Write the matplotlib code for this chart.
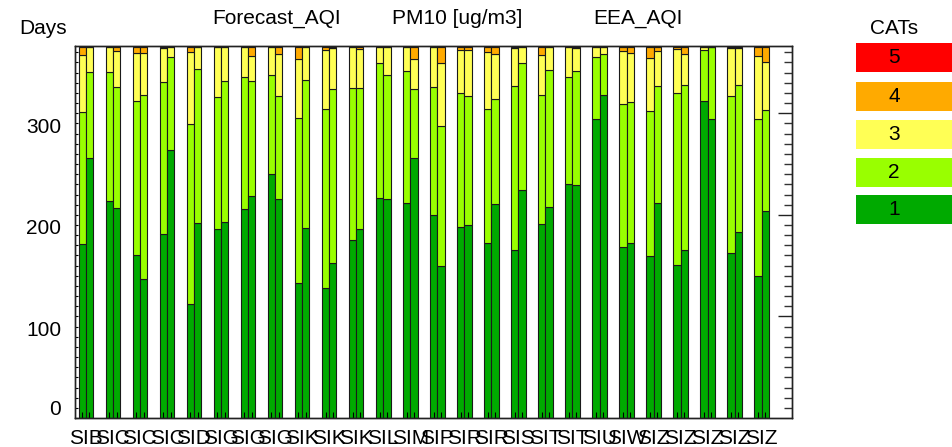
import matplotlib
matplotlib.use('Agg')
import matplotlib.pyplot as plt
from matplotlib.patches import Rectangle
from matplotlib.transforms import ScaledTranslation, blended_transform_factory
import numpy as np

plt.rcParams['font.family'] = ['Liberation Sans', 'DejaVu Sans']

stations = ['SIB', 'SIC', 'SIC', 'SIC', 'SID', 'SIG', 'SIG', 'SIG', 'SIK', 'SIK', 'SIK', 'SIL', 'SIM',
            'SIP', 'SIR', 'SIR', 'SIS', 'SIT', 'SIT', 'SIU', 'SIW', 'SIZ', 'SIZ', 'SIZ', 'SIZ', 'SIZ']

# days per category, forecast (left bar of each pair)
fc_cat1 = [171, 214, 160, 181, 112, 186, 206, 240, 133, 128, 175, 217, 212,
           200, 188, 172, 165, 191, 230, 294, 168, 159, 151, 312, 162, 140]
fc_cat2 = [130, 127, 152, 150, 177, 130, 130, 98, 162, 176, 150, 132, 130,
           126, 132, 132, 162, 127, 106, 61, 141, 143, 169, 50, 155, 154]
fc_cat3 = [56, 24, 47, 33, 71, 49, 29, 27, 58, 58, 40, 16, 23,
           39, 42, 56, 37, 39, 29, 10, 52, 52, 43, 3, 47, 62]
fc_cat4 = [8, 0, 6, 0, 5, 0, 0, 0, 12, 3, 0, 0, 0,
           0, 3, 5, 0, 8, 0, 0, 4, 11, 2, 0, 0, 9]
fc_cat5 = [0, 0, 0, 1, 0, 0, 0, 0, 0, 0, 0, 0, 0,
           0, 0, 0, 1, 0, 0, 0, 0, 0, 0, 0, 1, 0]

# days per category, observed EEA index (right bar of each pair)
obs_cat1 = [256, 207, 137, 264, 192, 193, 219, 216, 187, 153, 186, 216, 256,
            150, 190, 211, 224, 208, 229, 318, 172, 212, 165, 294, 183, 204]
obs_cat2 = [85, 119, 181, 91, 152, 139, 113, 101, 146, 171, 139, 122, 68,
            137, 127, 103, 125, 135, 113, 40, 139, 115, 163, 71, 145, 99]
obs_cat3 = [24, 35, 41, 10, 21, 33, 24, 41, 32, 40, 38, 27, 29,
            62, 45, 44, 16, 22, 22, 7, 48, 34, 30, 0, 36, 47]
obs_cat4 = [0, 4, 6, 0, 0, 0, 9, 7, 0, 0, 2, 0, 12,
            16, 3, 7, 0, 0, 0, 0, 6, 4, 7, 0, 0, 15]
obs_cat5 = [0, 0, 0, 0, 0, 0, 0, 0, 0, 1, 0, 0, 0,
            0, 0, 0, 0, 0, 1, 0, 0, 0, 0, 0, 1, 0]

cat_names = ['1', '2', '3', '4', '5']
cat_colors = ['#00aa00', '#99ff00', '#ffff55', '#ffaa00', '#ff0000']

fs = 15

fig = plt.figure(figsize=(9.53, 4.47), dpi=100)
ax = fig.add_axes([0.0787, 0.0649, 0.7524, 0.8329])

x = np.arange(len(stations))
w = 0.27

def stack(xpos, cats):
    bottom = np.zeros(len(xpos))
    for vals, col in zip(cats, cat_colors):
        vals = np.array(vals, dtype=float)
        ax.bar(xpos, vals, w, bottom=bottom, color=col, edgecolor='#1a1a1a', linewidth=0.8)
        bottom += vals

stack(x - w / 2, [fc_cat1, fc_cat2, fc_cat3, fc_cat4, fc_cat5])
stack(x + w / 2, [obs_cat1, obs_cat2, obs_cat3, obs_cat4, obs_cat5])

ax.set_xlim(-0.40, 26.12)
ax.set_ylim(0, 366.5)

# x axis: station names under each pair, small ticks inside the bars
ax.set_xticks(x)
ax.set_xticklabels(stations, fontsize=fs)
ax.tick_params(axis='x', which='major', length=0, pad=8)
ax.set_xticks(np.concatenate([x - w / 2, x + w / 2]), minor=True)
ax.tick_params(axis='x', which='minor', direction='in', length=4, width=0.8, top=False)

# left: short ticks every 10 days, labels drawn by hand
ax.set_yticks(np.arange(0, 370, 10))
ax.tick_params(axis='y', which='major', direction='in', length=2.5, width=0.8,
               labelleft=False)

yt = blended_transform_factory(ax.transAxes, ax.transData)
for val in [0, 100, 200, 300]:
    dy = 8 / 100 if val == 0 else -14 / 100
    tr = yt + ScaledTranslation(0, dy, fig.dpi_scale_trans)
    ax.text(-14 / 717, val, str(val), transform=tr, ha='right', va='center', fontsize=fs)

# right: longer ticks, major every 100
ax2 = ax.twinx()
ax2.set_ylim(ax.get_ylim())
ax2.set_yticks([100, 200, 300])
ax2.set_yticks(np.arange(10, 370, 10), minor=True)
ax2.tick_params(axis='y', which='major', direction='in', length=10, width=1.0,
                labelright=False, color='#222222')
ax2.tick_params(axis='y', which='minor', direction='in', length=6, width=1.0,
                color='#333333')

for a in (ax, ax2):
    for s in a.spines.values():
        s.set_linewidth(1.0)
        s.set_color('#222222')

fig.text(43 / 953, 1 - 28 / 447, 'Days', ha='center', va='center', fontsize=fs)
fig.text(277 / 953, 1 - 18 / 447, 'Forecast_AQI', ha='center', va='center', fontsize=fs)
fig.text(457 / 953, 1 - 18 / 447, 'PM10 [ug/m3]', ha='center', va='center', fontsize=fs)
fig.text(638 / 953, 1 - 18 / 447, 'EEA_AQI', ha='center', va='center', fontsize=fs)

# category legend on the right
fig.text(894 / 953, 1 - 28 / 447, 'CATs', ha='center', va='center', fontsize=fs)
box_top = [43, 82, 120, 158, 195]
for top, name, col in zip(box_top, cat_names[::-1], cat_colors[::-1]):
    fig.patches.append(Rectangle((856 / 953, 1 - (top + 29) / 447), 97 / 953, 29 / 447,
                                 transform=fig.transFigure, facecolor=col, edgecolor='none'))
    fig.text(894 / 953, 1 - (top + 14.5) / 447, name, ha='center', va='center', fontsize=fs)

fig.savefig('out.png', dpi=100)
